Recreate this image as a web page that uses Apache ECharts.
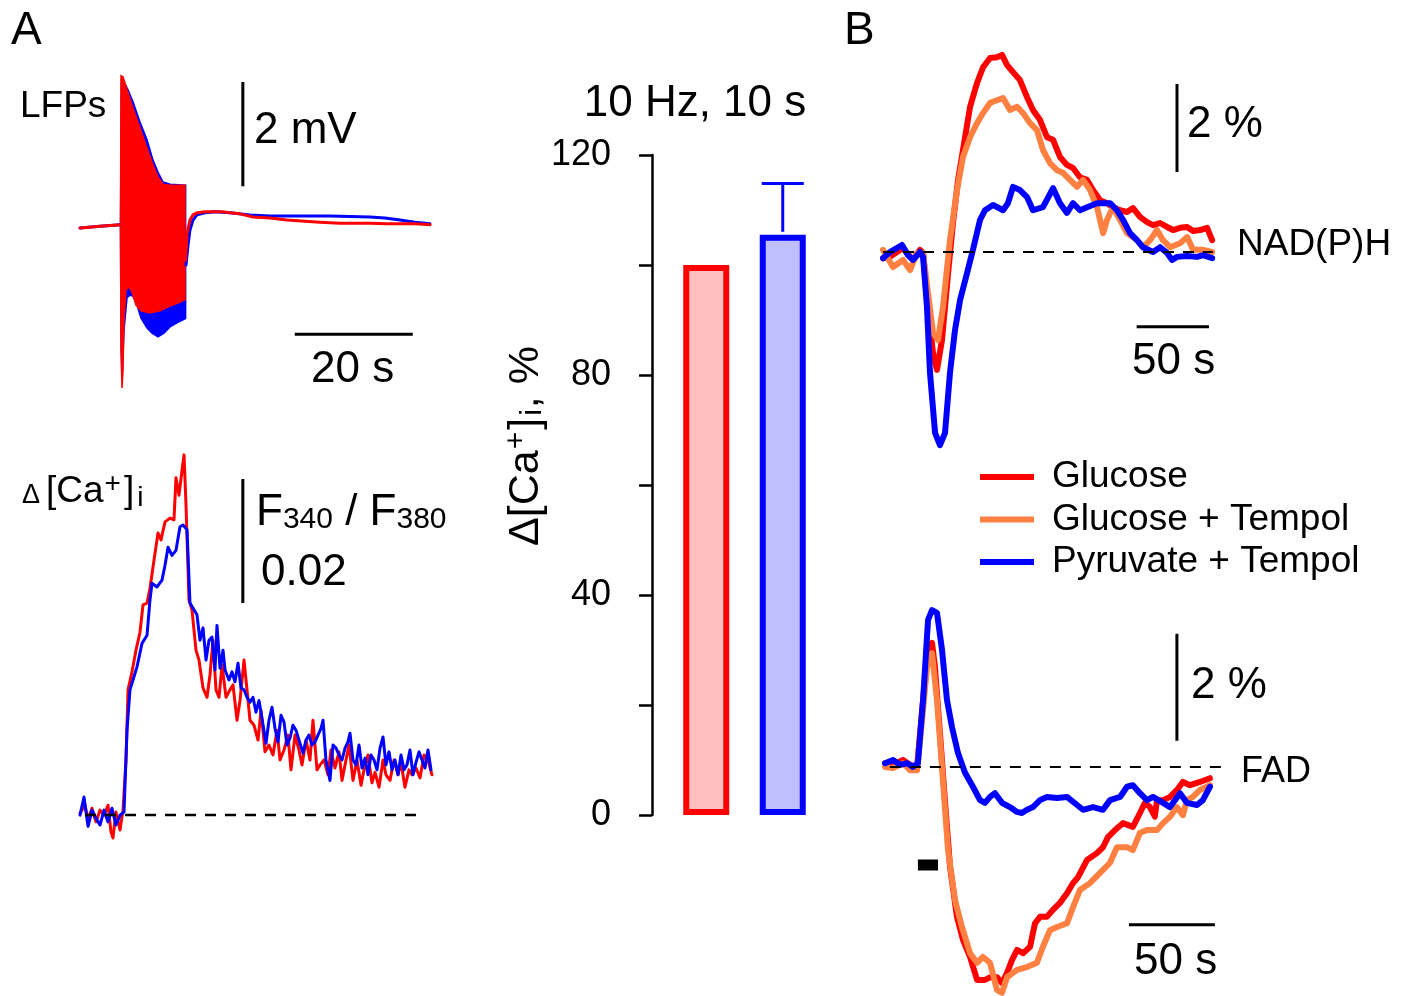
<!DOCTYPE html>
<html>
<head>
<meta charset="utf-8">
<script src="https://cdn.jsdelivr.net/npm/echarts@6/dist/echarts.min.js"></script>
<style>html,body{margin:0;padding:0;background:#fff}#c{width:1413px;height:996px}</style>
</head>
<body>
<div id="c"></div>
<script>
// ---------- DATA ----------
// Panel A, LFPs (time s, mV). Stimulation burst envelopes (10 Hz, 10 s)
const lfpRedEnvTop = [[6.86,0.01],[6.95,2.91],[7.29,2.89],[7.97,2.64],[8.98,2.29],[10.17,1.91],[11.36,1.52],[12.37,1.20],[13.22,0.97],[14.07,0.83],[15.25,0.81],[17.80,0.81]];
const lfpRedEnvBot = [[17.80,-1.39],[16.61,-1.45],[15.25,-1.51],[13.56,-1.60],[11.86,-1.64],[10.34,-1.60],[9.49,-1.49],[8.81,-1.24],[8.31,-1.14],[7.80,-1.20],[7.46,-1.78],[7.29,-2.74],[7.12,-3.08],[6.95,-2.35]];
const lfpBlueEnvTop = [[6.86,0.01],[7.03,2.83],[7.46,2.79],[8.14,2.64],[8.98,2.41],[10.17,2.02],[11.36,1.68],[12.37,1.29],[13.22,1.06],[14.07,0.87],[15.25,0.83],[17.90,0.81]];
const lfpBlueEnvBot = [[17.90,-1.75],[16.61,-1.82],[15.25,-1.91],[14.24,-2.03],[13.22,-2.10],[12.20,-2.03],[11.36,-1.93],[10.34,-1.74],[9.66,-1.49],[8.98,-1.32],[8.47,-1.30],[7.97,-1.35],[7.46,-1.97],[7.12,-2.93],[6.95,-2.15]];
const lfpRedTrace = [[0,-0.01],[3.39,0.02],[6.86,0.05],[12,'-'],[17.88,-0.63],[18.14,-0.11],[18.64,0.14],[19.15,0.24],[19.83,0.28],[21.19,0.30],[22.54,0.30],[24.07,0.30],[25.42,0.28],[27.12,0.26],[29.32,0.20],[32.2,0.18],[35.08,0.14],[38.14,0.12],[40.68,0.10],[44.07,0.08],[46.27,0.08],[49.15,0.08],[52.03,0.07],[54.24,0.07],[56.78,0.07],[59.32,0.05]];
const lfpBlueTrace = [[0,-0.01],[3.39,0.02],[6.86,0.05],[12,'-'],[17.97,-0.72],[18.31,-0.34],[18.64,-0.05],[19.15,0.14],[19.83,0.24],[21.19,0.28],[22.88,0.30],[25.42,0.28],[28.81,0.24],[32.2,0.22],[35.59,0.22],[39.49,0.22],[42.37,0.22],[45.76,0.21],[49.15,0.20],[51.69,0.18],[54.24,0.14],[56.78,0.10],[59.32,0.07]];
const lfpBar2mV = [[27.6,0.79],[27.6,2.79]];
const lfpBar20s = [[36.4,-2.05],[56.4,-2.05]];

// Panel A, Δ[Ca]i (time s, F340/F380 change x 1e-3)
const caRed = [[0,0.3],[0.85,1.6],[1.36,-0.8],[2.03,1.1],[2.71,-1.1],[3.39,0.8],[4.07,0],[4.75,1.6],[5.25,-2.7],[5.59,-3.7],[6.1,0.5],[6.78,-2.4],[7.29,0.8],[7.8,8.9],[8.14,20.2],[8.81,23.1],[9.49,26.6],[10.17,29.5],[10.68,33.9],[11.36,34.2],[11.86,36.6],[12.54,41.1],[13.22,45.5],[13.73,44.4],[14.41,47.3],[15.25,47.9],[15.93,47.6],[16.27,54.4],[16.78,51.6],[17.29,55.6],[17.63,58.1],[17.97,50],[18.47,34.7],[18.98,33.1],[19.66,26.6],[20.17,25],[20.85,20.5],[21.53,19],[22.03,22.6],[22.54,28.2],[23.05,20.2],[23.56,19],[24.07,24.2],[24.75,19],[25.42,20.2],[25.93,21],[26.61,15.3],[27.12,18.5],[27.8,25],[28.31,20.2],[28.81,15.3],[29.49,14.5],[30.17,12.1],[30.68,16.9],[31.36,10.2],[32.03,11.3],[32.71,9.7],[33.39,13.7],[33.9,8.9],[34.58,10.5],[35.25,12.9],[35.76,7.3],[36.44,12.9],[37.12,10.5],[37.63,8.1],[38.31,12.1],[38.98,8.9],[39.49,15.3],[40.17,7.3],[40.68,8.1],[41.36,8.9],[42.03,6.5],[42.54,10.5],[43.22,7.6],[43.9,10.2],[44.41,5.6],[45.08,8.9],[45.59,11.3],[46.27,5.6],[46.95,8.9],[47.63,4.8],[48.14,7.3],[48.81,9.7],[49.49,5.2],[50.0,6.9],[50.68,4.5],[51.36,8.9],[51.86,6.5],[52.54,5.6],[53.22,8.9],[53.9,6.5],[54.41,8.5],[55.08,4.5],[55.76,7.3],[56.27,6.5],[56.95,7.6],[57.63,6],[58.31,9.7],[58.98,8.9],[59.66,6.5]];
const caBlue = [[0,0],[0.68,2.9],[1.36,-1.8],[2.03,0.8],[2.71,-0.5],[3.39,-1.6],[4.07,0.8],[4.75,-1.1],[5.42,1.1],[6.1,-1.6],[6.78,0],[7.46,0.5],[7.97,13.7],[8.47,20.2],[8.98,21.8],[9.66,23.9],[10.51,27.7],[11.36,29],[11.86,34.7],[12.2,37.4],[13.05,36.8],[13.9,37.9],[14.41,40.3],[14.92,43.2],[15.59,41.9],[16.27,42.7],[16.95,46.5],[17.46,46.8],[18.14,46],[18.64,34.2],[19.32,33.1],[19.83,32.3],[20.34,28.2],[20.85,30.2],[21.36,25],[21.86,28.2],[22.37,28.7],[22.88,23.4],[23.22,30.6],[23.73,23.7],[24.24,26.6],[24.58,23.4],[25.25,21.8],[25.76,23.1],[26.27,21.5],[26.78,24.5],[27.29,20.5],[27.8,20.2],[28.31,19],[28.81,18.2],[29.32,19],[29.83,16.6],[30.34,18.5],[30.85,15.6],[31.53,11.6],[32.03,15.3],[32.54,17.4],[33.05,14],[33.56,11.8],[34.07,16.1],[34.58,15],[35.08,11.3],[35.59,12.4],[36.1,14.5],[36.61,13.7],[37.12,12.1],[37.8,10],[38.31,12.1],[38.81,12.9],[39.32,11.3],[39.83,11.8],[40.34,12.9],[40.85,14],[41.19,15.3],[41.69,8.9],[42.37,5.6],[42.88,11.3],[43.39,10.8],[43.9,9.7],[44.41,8.9],[44.92,10.8],[45.42,11.8],[45.76,13.2],[46.27,8.9],[46.78,8.1],[47.29,11.3],[47.8,7.6],[48.31,9.2],[48.81,6.5],[49.32,9.7],[49.83,8.9],[50.34,7.3],[50.85,10.8],[51.36,12.6],[51.86,8.1],[52.37,10.2],[52.88,7.3],[53.39,8.9],[53.9,6.5],[54.41,9.7],[54.92,7.3],[55.42,8.1],[55.93,10.5],[56.44,6.5],[56.95,8.5],[57.46,10.2],[57.97,8.9],[58.47,7.6],[58.98,10.5],[59.49,7.3]];
const caBaseline = [[0.85,0],[58.1,0]];
const caBar = [[27.6,34.2],[27.6,54.2]];

// Panel A, bar chart: Δ[Ca+]i, %
const barCategories = ['Glucose','Pyruvate + Tempol'];
const barValues = [100, 105.5];
const barErrorTop = [null, 114.8];

// Panel B, NAD(P)H (time s, %)
const nadRed = [[0,-0.14],[4.8,-0.11],[13.8,0.09],[20.7,-0.18],[25.6,0.05],[27.7,-0.02],[31.1,-1.25],[34.6,-2.30],[37.3,-2.68],[40.8,-2.0],[45.0,-0.48],[48.4,0.66],[51.9,1.64],[55.3,2.32],[60.2,3.30],[65.0,3.84],[69.2,4.20],[74.0,4.41],[78.8,4.43],[82.3,4.48],[85.8,4.25],[89.9,4.09],[94.7,3.91],[99.6,3.52],[103.7,3.23],[108.6,3.0],[113.4,2.61],[117.6,2.55],[122.4,2.16],[127.2,1.98],[131.4,1.91],[136.2,1.70],[141.1,1.64],[145.2,1.41],[150.1,1.18],[154.9,1.11],[159.0,1.02],[163.9,0.95],[168.7,0.91],[172.9,1.0],[177.7,0.80],[182.6,0.68],[186.7,0.61],[191.6,0.66],[196.4,0.57],[200.6,0.50],[205.4,0.55],[210.3,0.57],[214.4,0.48],[219.3,0.50],[224.1,0.55],[227.6,0.27]];
const nadOrange = [[0,0.05],[6.9,-0.34],[13.8,-0.18],[18.7,-0.41],[23.5,-0.02],[27.7,-0.02],[31.1,-0.93],[34.6,-1.84],[38.0,-2.0],[41.5,-1.25],[46.3,0.27],[51.2,1.41],[55.3,2.16],[60.2,2.61],[65.0,2.93],[69.2,3.16],[74.0,3.39],[78.8,3.45],[83.0,3.50],[87.8,3.23],[92.7,3.30],[96.8,3.16],[101.7,2.93],[106.5,2.77],[110.6,2.32],[115.5,2.02],[120.3,1.86],[124.5,1.80],[129.3,1.64],[134.2,1.48],[138.3,1.64],[143.2,1.41],[148.0,1.02],[152.2,0.43],[154.9,0.73],[159.0,1.02],[163.9,0.73],[168.7,0.43],[175.6,0.27],[179.8,0.11],[184.6,0.27],[189.5,0.50],[193.6,0.27],[198.5,0.11],[205.4,0.20],[210.3,0.34],[214.4,0.05],[221.3,0.05],[227.6,0]];
const nadBlue = [[0,-0.14],[4.8,0],[13.1,0.16],[17.3,-0.07],[20.7,-0.18],[25.6,0],[27.7,-0.11],[30.4,-1.25],[32.5,-2.75],[36.0,-4.11],[39.4,-4.39],[42.9,-4.11],[46.3,-2.75],[49.8,-1.77],[53.3,-1.09],[58.1,-0.48],[62.2,0.05],[67.1,0.73],[70.5,0.95],[76.1,1.07],[83.0,0.95],[86.4,1.11],[89.9,1.48],[94.7,1.41],[99.6,1.25],[103.7,0.95],[110.6,1.02],[117.6,1.45],[122.4,1.11],[127.2,0.89],[131.4,1.11],[136.2,0.95],[141.1,1.02],[148.0,1.11],[157.0,1.11],[161.8,0.95],[166.0,0.73],[170.8,0.43],[175.6,0.27],[179.8,0.11],[186.7,0],[191.6,0.11],[196.4,-0.02],[199.9,-0.18],[203.3,-0.11],[210.3,-0.09],[217.2,-0.11],[221.3,-0.07],[227.6,-0.14]];
const nadBaseline = [[0,0],[228,0]];
const nadBar2pct = [[203.3,1.82],[203.3,3.82]];
const nadBar50s = [[175.4,-1.70],[225.4,-1.70]];

// Panel B, FAD (time s, %)
const fadRed = [[1.2,0.07],[5.8,0.04],[11.6,0.13],[15.7,0.04],[19.8,0],[23.3,1.25],[26.2,2.19],[28.5,2.32],[30.2,1.87],[33.1,0.64],[36.0,-0.62],[39.0,-1.87],[43.0,-2.80],[46.5,-3.23],[50.6,-3.55],[54.7,-3.98],[59.3,-3.98],[62.2,-3.93],[66.3,-3.93],[69.2,-4.04],[72.1,-3.85],[75.0,-3.61],[77.9,-3.42],[81.4,-3.48],[85.5,-3.36],[88.4,-2.92],[91.3,-2.80],[95.3,-2.80],[98.8,-2.67],[102.9,-2.54],[107.0,-2.36],[110.5,-2.17],[113.4,-2.06],[118.6,-1.74],[124.4,-1.61],[127.9,-1.50],[130.8,-1.31],[134.9,-1.18],[139.5,-1.05],[145.3,-1.12],[149.4,-0.86],[152.3,-0.67],[155.2,-0.75],[158.1,-0.93],[159.3,-0.62],[162.8,-0.62],[166.9,-0.56],[170.9,-0.43],[174.4,-0.28],[178.5,-0.34],[184.3,-0.28],[190.1,-0.21]];
const fadOrange = [[1.2,0],[5.8,-0.02],[11.6,0.07],[15.7,-0.06],[19.8,-0.06],[22.7,0.88],[25.6,1.87],[28.5,2.13],[31.4,1.25],[34.3,0],[37.8,-1.55],[41.9,-2.49],[45.9,-2.99],[50.6,-3.48],[54.7,-3.66],[58.1,-3.55],[62.2,-3.66],[66.3,-4.17],[69.2,-4.22],[72.1,-3.93],[77.9,-3.79],[83.7,-3.74],[89.5,-3.66],[93.0,-3.36],[97.1,-3.05],[101.2,-2.99],[107.0,-2.92],[110.5,-2.62],[114.5,-2.30],[120.3,-2.17],[126.2,-1.98],[132.0,-1.79],[136.0,-1.50],[141.9,-1.50],[145.3,-1.55],[149.4,-1.23],[153.5,-1.18],[159.3,-1.18],[162.8,-1.05],[166.9,-0.93],[170.9,-0.75],[174.4,-0.90],[176.7,-0.62],[180.2,-0.56],[184.3,-0.43],[190.1,-0.34]];
const fadBlue = [[1.2,0.07],[5.8,0.13],[9.9,0.04],[14.0,0.07],[17.4,0],[20.3,0.07],[23.3,1.25],[26.2,2.75],[28.5,2.93],[31.4,2.88],[34.3,2.19],[37.2,1.25],[40.1,0.75],[43.6,0.26],[47.7,-0.11],[52.3,-0.37],[56.4,-0.62],[59.3,-0.67],[62.2,-0.56],[65.1,-0.49],[69.2,-0.67],[73.8,-0.75],[77.9,-0.84],[80.8,-0.86],[83.7,-0.80],[87.2,-0.75],[91.3,-0.62],[95.3,-0.56],[101.2,-0.58],[107.0,-0.56],[110.5,-0.65],[116.3,-0.80],[122.1,-0.75],[127.9,-0.80],[132.0,-0.62],[137.8,-0.56],[141.9,-0.37],[145.3,-0.34],[149.4,-0.49],[153.5,-0.62],[157.0,-0.56],[162.8,-0.67],[166.9,-0.75],[172.7,-0.49],[176.7,-0.67],[182.6,-0.71],[186.0,-0.62],[190.1,-0.37]];
const fadBaseline = [[4,0],[197.7,0]];
const fadBar2pct = [[170.9,0.49],[170.9,2.49]];
const fadBar50s = [[143,-2.95],[193,-2.95]];
const fadStimulus = [[20.3,-1.83],[32.0,-1.83]];

const legendNames = ['Glucose','Glucose + Tempol','Pyruvate + Tempol'];

// ---------- STYLE ----------
const FONT = '"Liberation Sans", Arial, Helvetica, sans-serif';
const RED = '#FF0000', ORANGE = '#FF8040', BLUE = '#0000FF', BLACK = '#000000';

const chart = echarts.init(document.getElementById('c'), null, {renderer:'canvas'});

function hiddenX(grid, min, max){ return {gridIndex:grid, type:'value', min:min, max:max, show:false}; }
function hiddenY(grid, min, max){ return {gridIndex:grid, type:'value', min:min, max:max, show:false}; }

function line(name, grid, data, color, width, extra){
  return Object.assign({
    type:'line', name:name, xAxisIndex:grid, yAxisIndex:grid, data:data,
    symbol:'none', silent:true, animation:false, connectNulls:false,
    lineStyle:{color:color, width:width, join:'round', cap:'round'}, itemStyle:{color:color}
  }, extra || {});
}
function envelope(name, top, bot, color){
  return {
    type:'custom', name:name, xAxisIndex:0, yAxisIndex:0, data:[[0,0]], silent:true, animation:false, clip:false,
    encode:{x:0, y:1},
    renderItem:function(params, api){
      const pts = top.concat(bot).map(p => api.coord(p));
      return {type:'polygon', shape:{points:pts}, style:{fill:color, stroke:color, lineWidth:1.5}};
    }
  };
}
function dashed(grid, data, width){
  return line('baseline', grid, data, BLACK, width, {lineStyle:{color:BLACK, width:width, type:[11,9]}, z:5});
}
function scale(grid, data, width){
  return line('scale', grid, data, BLACK, width || 3, {lineStyle:{color:BLACK, width:width || 3, cap:'butt'}, z:5});
}
function text(x, y, t, size, styleExtra){
  return {type:'text', x:x, y:y, silent:true,
    style:Object.assign({text:t, fontSize:size, fontFamily:FONT, fill:BLACK, align:'left', verticalAlign:'middle'}, styleExtra || {})};
}

const option = {
  backgroundColor:'#ffffff',
  animation:false,
  grid:[
    {left:80, top:58, width:354, height:344},   // LFP
    {left:80, top:440, width:354, height:412},  // Ca trace
    {left:668, top:155, width:153, height:660}, // bars
    {left:883, top:40, width:340, height:410},  // NAD(P)H
    {left:883, top:600, width:340, height:396}  // FAD
  ],
  xAxis:[
    hiddenX(0, 0, 60),
    hiddenX(1, 0, 60),
    {gridIndex:2, type:'category', data:barCategories, show:false},
    hiddenX(3, 0, 235.1),
    hiddenX(4, 0, 197.7)
  ],
  yAxis:[
    hiddenY(0, -3.35, 3.25),
    hiddenY(1, -5.95, 60.5),
    {gridIndex:2, type:'value', min:0, max:120, interval:20, offset:16,
      axisLine:{show:true, lineStyle:{color:BLACK, width:2.5}},
      axisTick:{show:true, inside:false, length:13, lineStyle:{color:BLACK, width:2.5}},
      axisLabel:{show:true, fontSize:36, fontFamily:FONT, color:BLACK, margin:41,
        formatter:function(v){ return v % 40 === 0 ? String(v) : ''; }},
      splitLine:{show:false}},
    hiddenY(3, -4.5, 4.82),
    hiddenY(4, -4.28, 3.12)
  ],
  legend:{
    data:legendNames, orient:'vertical', left:975, top:452,
    itemWidth:54, itemHeight:6, itemGap:2.5, icon:'rect', selectedMode:false,
    textStyle:{fontSize:37, fontFamily:FONT, color:BLACK, lineHeight:40, padding:[0,0,0,13]}
  },
  series:[
    // LFPs
    envelope('LFP blue burst', lfpBlueEnvTop, lfpBlueEnvBot, BLUE),
    line('LFP blue', 0, lfpBlueTrace, BLUE, 3),
    envelope('LFP red burst', lfpRedEnvTop, lfpRedEnvBot, RED),
    line('LFP red', 0, lfpRedTrace, RED, 3),
    scale(0, lfpBar2mV), scale(0, lfpBar20s),
    // Ca trace
    line('Ca red', 1, caRed, RED, 3),
    line('Ca blue', 1, caBlue, BLUE, 3),
    dashed(1, caBaseline, 2.5),
    scale(1, caBar),
    // Bars
    {type:'bar', name:'Δ[Ca+]i', xAxisIndex:2, yAxisIndex:2, barWidth:46, silent:true, animation:false,
      data:[
        {value:barValues[0], itemStyle:{color:'#FFBFBF', borderColor:RED, borderWidth:6}},
        {value:barValues[1], itemStyle:{color:'#BFBFFF', borderColor:BLUE, borderWidth:6}}
      ]},
    {type:'custom', name:'SEM', xAxisIndex:2, yAxisIndex:2, silent:true, animation:false, z:3,
      data:[[1, barValues[1], barErrorTop[1]]], encode:{x:0, y:[1,2]},
      renderItem:function(params, api){
        const lo = api.coord([api.value(0), api.value(1)]);
        const hi = api.coord([api.value(0), api.value(2)]);
        return {type:'group', children:[
          {type:'line', shape:{x1:lo[0], y1:lo[1]-3, x2:hi[0], y2:hi[1]}, style:{stroke:BLUE, lineWidth:3}},
          {type:'line', shape:{x1:hi[0]-21, y1:hi[1], x2:hi[0]+21, y2:hi[1]}, style:{stroke:BLUE, lineWidth:3}}
        ]};
      }},
    // NAD(P)H
    line('Glucose', 3, nadRed, RED, 6),
    line('Glucose + Tempol', 3, nadOrange, ORANGE, 6),
    line('Pyruvate + Tempol', 3, nadBlue, BLUE, 6),
    dashed(3, nadBaseline, 2),
    scale(3, nadBar2pct), scale(3, nadBar50s),
    // FAD
    line('Glucose', 4, fadRed, RED, 6),
    line('Glucose + Tempol', 4, fadOrange, ORANGE, 6),
    line('Pyruvate + Tempol', 4, fadBlue, BLUE, 6),
    dashed(4, fadBaseline, 2),
    scale(4, fadBar2pct), scale(4, fadBar50s),
    line('stimulus', 4, fadStimulus, BLACK, 11, {lineStyle:{color:BLACK, width:11, cap:'butt'}, z:5})
  ],
  graphic:[
    text(11, 31, 'A', 46),
    text(844, 31, 'B', 46),
    text(20, 107, 'LFPs', 37),
    text(254, 131, '2 mV', 44),
    text(311, 370, '20 s', 44),
    {type:'text', x:22, y:492, silent:true, style:{
      text:'{d|Δ}{t|[Ca}{sup|+}{t|]}{sub|i}', fontFamily:FONT, fill:BLACK, verticalAlign:'middle',
      rich:{
        d:{fontSize:27, fontFamily:FONT, fill:BLACK, padding:[8,6,0,0]},
        t:{fontSize:37, fontFamily:FONT, fill:BLACK},
        sup:{fontSize:28, fontFamily:FONT, fill:BLACK, padding:[0,3,16,1]},
        sub:{fontSize:28, fontFamily:FONT, fill:BLACK, padding:[12,0,0,3]}
      }}},
    {type:'text', x:256, y:513, silent:true, style:{
      text:'{t|F}{sub|340}{t| / F}{sub|380}', fontFamily:FONT, fill:BLACK, verticalAlign:'middle',
      rich:{
        t:{fontSize:44, fontFamily:FONT, fill:BLACK},
        sub:{fontSize:30, fontFamily:FONT, fill:BLACK, padding:[14,0,0,0]}
      }}},
    text(261, 573, '0.02', 44),
    text(695, 104, '10 Hz, 10 s', 44, {align:'center'}),
    {type:'text', x:526, y:446, rotation:Math.PI/2, silent:true, style:{
      text:'{t|Δ[Ca}{sup|+}{t|]}{sub|i}{t|, %}', fontFamily:FONT, fill:BLACK, align:'center', verticalAlign:'middle',
      rich:{
        t:{fontSize:43, fontFamily:FONT, fill:BLACK},
        sup:{fontSize:30, fontFamily:FONT, fill:BLACK, padding:[0,2,18,1]},
        sub:{fontSize:30, fontFamily:FONT, fill:BLACK, padding:[14,1,0,2]}
      }}},
    text(1187, 125, '2 %', 44),
    text(1237, 245, 'NAD(P)H', 37),
    text(1132, 362, '50 s', 44),
    text(1191, 686, '2 %', 44),
    text(1241, 772, 'FAD', 36),
    text(1134, 962, '50 s', 44)
  ]
};
chart.setOption(option);
</script>
</body>
</html>
